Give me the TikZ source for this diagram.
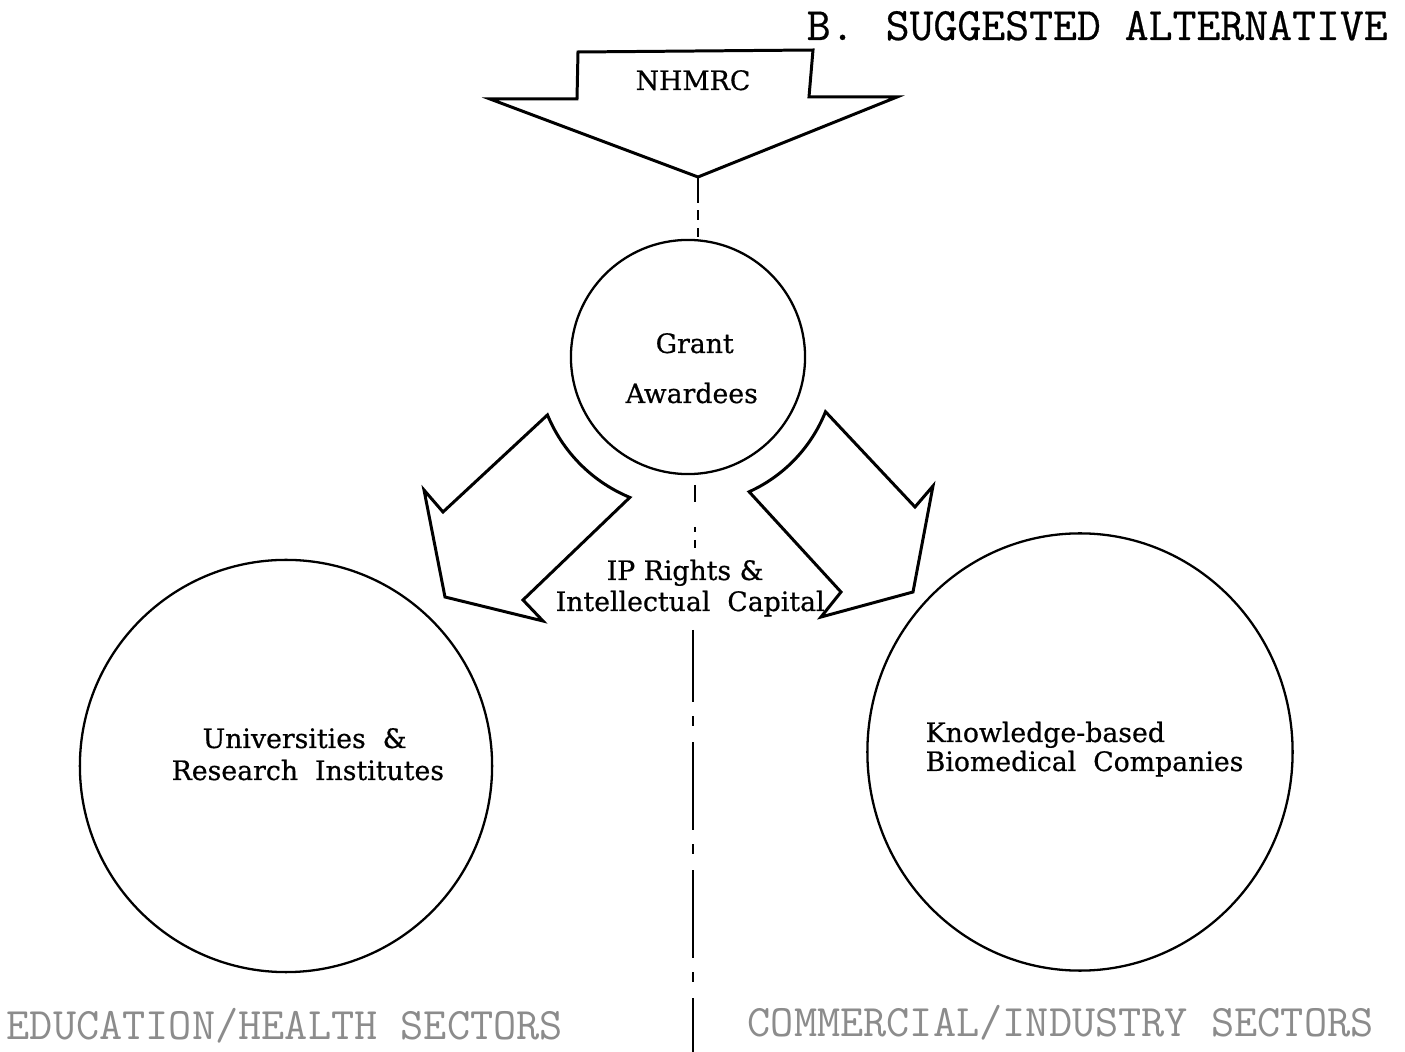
\documentclass[tikz,border=0pt]{standalone}
\usepackage{fontspec}
\usetikzlibrary{shapes.geometric}
\newfontfamily\labelfont[FakeBold=0.6]{DejaVu Serif}
\newfontfamily\typefont[FakeBold=0.5]{Latin Modern Mono}
\begin{document}
\begin{tikzpicture}[x=0.01cm,y=-0.01cm,
  outline/.style={draw=black, line width=0.85pt, line join=miter},
  ring/.style={draw=black, line width=0.65pt, inner sep=0pt},
  body/.style={font=\labelfont\fontsize{7.6}{9}\selectfont, inner sep=0pt, anchor=base west},
  headline/.style={font=\typefont\fontsize{13.2}{15}\selectfont, inner sep=0pt, anchor=base west},
  sector/.style={font=\ttfamily\fontsize{12.8}{14}\selectfont, text=black!45, inner sep=0pt, anchor=base west},
  divider/.style={draw=black, line width=0.7pt, line cap=butt}]

\useasboundingbox (0,0) rectangle (1405,1052);
\fill[white] (0,0) rectangle (1405,1052);

% heading
\node[headline] (hB) at (806,40) {B.};
\node[headline] (hT) at (885,40) {SUGGESTED ALTERNATIVE};

% NHMRC block arrow pointing down
\draw[outline] (490,99) -- (577,99) -- (578,52) -- (813,50) -- (809,97)
  -- (897,97) -- (698,177) coordinate (tip) -- cycle;
\node[body] (nhmrc) at (635,90) {NHMRC};

% circles
\node[ring, circle, minimum size=2.34cm] (grant) at (688,357) {};
\node[ring, circle, minimum size=4.12cm] (univ) at (286,766) {};
\node[ring, ellipse, minimum width=4.25cm, minimum height=4.37cm] (comp) at (1080,752) {};

% circle labels
\node[body] (g1) at (655,353) {Grant};
\node[body] (g2) at (625,403) {Awardees};
\node[body] (u1) at (202,748) {Universities \ \&};
\node[body] (u2) at (171,780) {Research \ Institutes};
\node[body] (k1) at (925,742) {Knowledge-based};
\node[body] (k2) at (925,771) {Biomedical \ Companies};
\node[body] (ip1) at (606,580) {IP Rights \&};
\node[body] (ip2) at (555,611) {Intellectual \ Capital};

% curved block arrows leaving the grant circle
\draw[outline] plot[domain=157.6:112.5, samples=30] ({688+152*cos(\x)},{357+152*sin(\x)})
  -- (523,600) -- (543,621) -- (445,597) -- (424,490) -- (443,512) -- cycle;
\draw[outline] plot[domain=21.7:65.6, samples=30] ({688+148*cos(\x)},{357+148*sin(\x)})
  -- (841,592) -- (821,617) -- (913,592) -- (933,486) -- (915,507) -- cycle;

% dividing line between the two sectors
\coordinate (divT) at (698,240);
\coordinate (divA) at (695,485);
\coordinate (divB) at (695,548);
\coordinate (divC) at (693,630);
\coordinate (divD) at (693,1052);
\draw[divider, dash pattern=on 7.4pt off 2pt on 2.85pt off 2.28pt on 2.56pt off 20pt] (tip) -- (divT);
\draw[divider, dash pattern=on 4.84pt off 7.1pt on 1.42pt off 2.28pt on 2.28pt off 20pt] (divA) -- (divB);
\draw[divider, dash pattern=on 25.04pt off 3.98pt on 2.85pt off 4.55pt, dash phase=4.55pt] (divC) -- (divD);

% sector captions
\node[sector] (edu) at (6,1040) {EDUCATION/HEALTH SECTORS};
\node[sector] (com) at (747,1037) {COMMERCIAL/INDUSTRY SECTORS};
\end{tikzpicture}
\end{document}
